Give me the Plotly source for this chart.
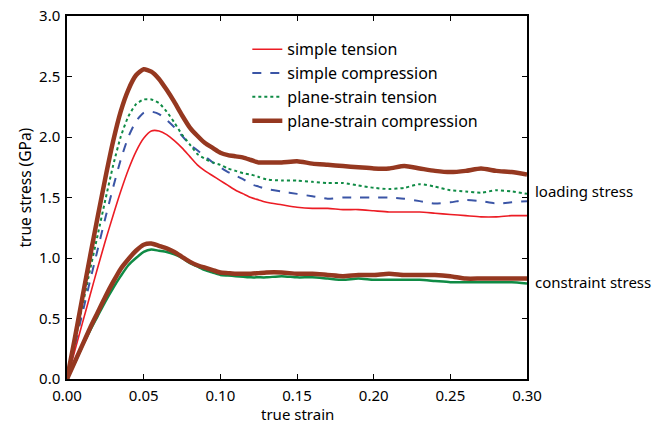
import plotly.graph_objects as go

strain = [0.0, 0.005, 0.01, 0.015, 0.02, 0.025, 0.03, 0.035, 0.04, 0.045, 0.05, 0.055, 0.06,
          0.065, 0.07, 0.075, 0.08, 0.085, 0.09, 0.095, 0.10, 0.105, 0.11, 0.115, 0.12, 0.125,
          0.13, 0.14, 0.15, 0.16, 0.17, 0.18, 0.19, 0.20, 0.21, 0.22, 0.23, 0.24, 0.25, 0.26,
          0.27, 0.28, 0.29, 0.30]

# loading stress (GPa)
simple_tension = [0.0, 0.23, 0.46, 0.69, 0.92, 1.14, 1.35, 1.55, 1.73, 1.88, 1.99, 2.05, 2.05,
                  2.02, 1.97, 1.91, 1.84, 1.77, 1.72, 1.68, 1.64, 1.60, 1.56, 1.53, 1.50, 1.48,
                  1.46, 1.44, 1.42, 1.41, 1.41, 1.40, 1.40, 1.39, 1.38, 1.38, 1.38, 1.37, 1.36,
                  1.35, 1.34, 1.34, 1.35, 1.35]
simple_compression = [0.0, 0.27, 0.54, 0.81, 1.07, 1.33, 1.58, 1.81, 2.00, 2.13, 2.20, 2.21, 2.19,
                      2.14, 2.08, 2.01, 1.94, 1.89, 1.84, 1.79, 1.75, 1.71, 1.68, 1.65, 1.61, 1.59,
                      1.57, 1.55, 1.53, 1.51, 1.49, 1.50, 1.50, 1.50, 1.50, 1.49, 1.47, 1.45, 1.46,
                      1.48, 1.47, 1.45, 1.46, 1.47]
ps_tension = [0.0, 0.30, 0.60, 0.90, 1.19, 1.48, 1.76, 2.00, 2.17, 2.27, 2.31, 2.31, 2.28,
              2.21, 2.12, 2.02, 1.94, 1.86, 1.82, 1.79, 1.77, 1.74, 1.72, 1.70, 1.69, 1.67,
              1.65, 1.64, 1.64, 1.63, 1.62, 1.62, 1.60, 1.58, 1.57, 1.58, 1.61, 1.59, 1.56,
              1.55, 1.54, 1.56, 1.55, 1.53]
ps_compression = [0.0, 0.33, 0.67, 1.01, 1.34, 1.66, 1.96, 2.21, 2.39, 2.51, 2.56, 2.54, 2.48,
                  2.39, 2.29, 2.18, 2.08, 2.01, 1.95, 1.91, 1.87, 1.85, 1.84, 1.83, 1.81, 1.79,
                  1.79, 1.79, 1.80, 1.78, 1.77, 1.76, 1.75, 1.74, 1.74, 1.76, 1.74, 1.72, 1.71,
                  1.72, 1.74, 1.72, 1.71, 1.69]

# constraint stress (GPa)
ps_tension_constraint = [0.0, 0.13, 0.27, 0.40, 0.52, 0.64, 0.75, 0.85, 0.94, 1.00, 1.05, 1.07, 1.06,
                         1.05, 1.03, 1.00, 0.96, 0.93, 0.90, 0.88, 0.86, 0.855, 0.85, 0.845, 0.84, 0.84,
                         0.84, 0.85, 0.84, 0.84, 0.83, 0.82, 0.83, 0.82, 0.82, 0.82, 0.82, 0.81, 0.80,
                         0.80, 0.80, 0.80, 0.80, 0.79]
ps_compression_constraint = [0.0, 0.14, 0.28, 0.42, 0.55, 0.68, 0.80, 0.91, 0.99, 1.06, 1.11, 1.12, 1.10,
                             1.08, 1.05, 1.01, 0.97, 0.94, 0.92, 0.90, 0.88, 0.875, 0.87, 0.87, 0.87, 0.875,
                             0.88, 0.88, 0.87, 0.87, 0.86, 0.85, 0.86, 0.86, 0.87, 0.86, 0.86, 0.86, 0.85,
                             0.83, 0.83, 0.83, 0.83, 0.83]

x_ticks = [0, 0.05, 0.10, 0.15, 0.20, 0.25, 0.30]
x_ticklabels = ["0.00", "0.05", "0.10", "0.15", "0.20", "0.25", "0.30"]
y_ticks = [0, 0.5, 1.0, 1.5, 2.0, 2.5, 3.0]
y_ticklabels = ["0.0", "0.5", "1.0", "1.5", "2.0", "2.5", "3.0"]

RED = "#ec1c24"
BLUE = "#3b55a6"
GREEN = "#0f8b45"
BROWN = "#953820"

FONT = "Noto Sans"

fig = go.Figure()
fig.add_trace(go.Scatter(x=strain, y=simple_tension, mode="lines", name="simple tension",
                         line=dict(color=RED, width=1.6, shape="spline", smoothing=0.6)))
fig.add_trace(go.Scatter(x=strain, y=simple_compression, mode="lines", name="simple compression",
                         line=dict(color=BLUE, width=2, dash="dash", shape="spline", smoothing=0.6)))
fig.add_trace(go.Scatter(x=strain, y=ps_tension, mode="lines", name="plane-strain tension",
                         line=dict(color=GREEN, width=2, dash="dot", shape="spline", smoothing=0.6)))
fig.add_trace(go.Scatter(x=strain, y=ps_compression, mode="lines", name="plane-strain compression",
                         line=dict(color=BROWN, width=4.5, shape="spline", smoothing=0.6)))
fig.add_trace(go.Scatter(x=strain, y=ps_tension_constraint, mode="lines", showlegend=False,
                         line=dict(color=GREEN, width=2.5, shape="spline", smoothing=0.6)))
fig.add_trace(go.Scatter(x=strain, y=ps_compression_constraint, mode="lines", showlegend=False,
                         line=dict(color=BROWN, width=4.5, shape="spline", smoothing=0.6)))

axis_common = dict(showline=True, linecolor="black", linewidth=1.5, mirror="ticks",
                   ticks="inside", ticklen=5, tickcolor="black", tickwidth=1,
                   showgrid=False, zeroline=False, automargin=False,
                   tickfont=dict(family=FONT, size=15, color="black"))

fig.update_xaxes(range=[0, 0.30], tickvals=x_ticks, ticktext=x_ticklabels,
                 ticklabelstandoff=2, **axis_common)
fig.update_yaxes(range=[0, 3.0], tickvals=y_ticks, ticktext=y_ticklabels,
                 ticklabelstandoff=2, **axis_common)

# axis titles
fig.add_annotation(x=0.5, y=0, xref="paper", yref="paper", text="true strain",
                   showarrow=False, xanchor="center", yanchor="middle", yshift=-35,
                   font=dict(family=FONT, size=15, color="black"))
fig.add_annotation(x=0, y=0.5, xref="paper", yref="paper", text="true stress (GPa)",
                   showarrow=False, xanchor="center", yanchor="middle", xshift=-43, yshift=10,
                   textangle=-90, font=dict(family=FONT, size=15.5, color="black"))

fig.add_annotation(x=1.0, y=1.55, xref="paper", yref="y", text="loading stress",
                   showarrow=False, xanchor="left", xshift=6,
                   font=dict(family=FONT, size=15, color="black"))
fig.add_annotation(x=1.0, y=0.80, xref="paper", yref="y", text="constraint stress",
                   showarrow=False, xanchor="left", xshift=6,
                   font=dict(family=FONT, size=15, color="black"))

fig.update_layout(
    width=667, height=424,
    margin=dict(l=67, r=140, t=16, b=45),
    plot_bgcolor="white", paper_bgcolor="white",
    legend=dict(x=0.392, y=0.955, xanchor="left", yanchor="top",
                bgcolor="rgba(0,0,0,0)", font=dict(family=FONT, size=16, color="black"),
                tracegroupgap=0, itemwidth=30),
)

fig.write_html("out.html", config={"displayModeBar": False},
               post_script="document.body.style.margin='0';")
